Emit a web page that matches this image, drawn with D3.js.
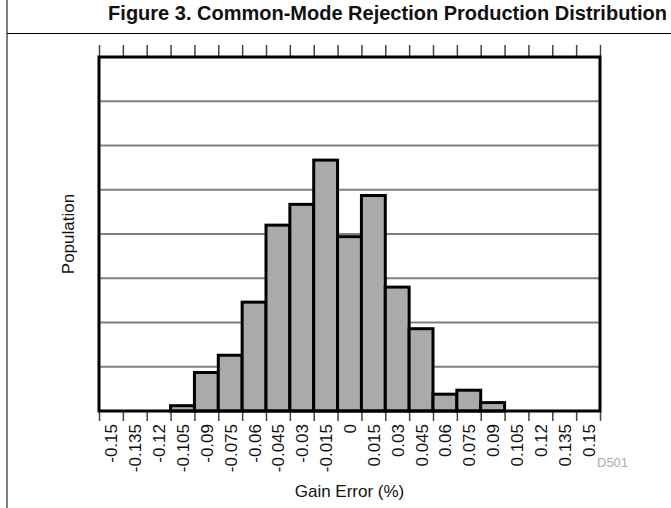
<!DOCTYPE html>
<html>
<head>
<meta charset="utf-8">
<script src="https://cdn.jsdelivr.net/npm/d3@7"></script>
<style>
  html, body { margin: 0; padding: 0; background: #fff; }
  svg { display: block; font-family: Arial, "Liberation Sans", sans-serif; }
</style>
</head>
<body>
<svg id="chart" width="671" height="508"></svg>
<script>
// ---- data ----
const binCenters = [-0.15, -0.135, -0.12, -0.105, -0.09, -0.075, -0.06, -0.045, -0.03, -0.015, 0,
                    0.015, 0.03, 0.045, 0.06, 0.075, 0.09, 0.105, 0.12, 0.135, 0.15];
const tickLabels = ["-0.15", "-0.135", "-0.12", "-0.105", "-0.09", "-0.075", "-0.06", "-0.045", "-0.03", "-0.015", "0",
                    "0.015", "0.03", "0.045", "0.06", "0.075", "0.09", "0.105", "0.12", "0.135", "0.15"];
const population = [0, 0, 0, 0.12, 0.87, 1.26, 2.46, 4.2, 4.67, 5.67, 3.94,
                    4.87, 2.8, 1.86, 0.38, 0.47, 0.19, 0, 0, 0, 0];
const gridValues = [1, 2, 3, 4, 5, 6, 7];
const binWidth = 0.015;
const title = "Figure 3. Common-Mode Rejection Production Distribution";
const xTitle = "Gain Error (%)";
const yTitle = "Population";
const figId = "D501";

(function () {
// ---- layout ----
const svg = d3.select("#chart");
const pL = 99, pR = 600, pT = 57, pB = 411;

const x = d3.scaleLinear()
  .domain([binCenters[0] - binWidth / 2, binCenters[binCenters.length - 1] + binWidth / 2])
  .range([pL, pR]);
const y = d3.scaleLinear().domain([0, 8]).range([pB, pT]);

// outer frame lines
svg.append("line").attr("x1", 7).attr("x2", 7).attr("y1", 0).attr("y2", 508)
  .attr("stroke", "#000").attr("stroke-width", 1);
svg.append("line").attr("x1", 7).attr("x2", 671).attr("y1", 33.5).attr("y2", 33.5)
  .attr("stroke", "#000").attr("stroke-width", 1);

// title
svg.append("text").attr("x", 667).attr("y", 20)
  .attr("text-anchor", "end").attr("font-weight", "bold").attr("font-size", 20)
  .attr("fill", "#111").text(title);

// gridlines
svg.append("g").selectAll("line").data(gridValues).join("line")
  .attr("x1", pL).attr("x2", pR)
  .attr("y1", d => y(d)).attr("y2", d => y(d))
  .attr("stroke", "#808080").attr("stroke-width", 2);

// bars
svg.append("g").selectAll("rect").data(population.map((v, i) => ({c: binCenters[i], v})).filter(d => d.v > 0))
  .join("rect")
  .attr("x", d => x(d.c - binWidth / 2))
  .attr("width", d => x(d.c + binWidth / 2) - x(d.c - binWidth / 2))
  .attr("y", d => y(d.v))
  .attr("height", d => y(0) - y(d.v))
  .attr("fill", "#aaaaaa").attr("stroke", "#000").attr("stroke-width", 3);

// bin-edge ticks (top and bottom)
const edges = d3.range(binCenters.length + 1).map(i => x.domain()[0] + i * binWidth);
const topAxis = d3.axisTop(x).tickValues(edges).tickSize(12).tickFormat("");
const gTop = svg.append("g").attr("transform", `translate(0,${pT})`).call(topAxis);
gTop.select(".domain").remove();
gTop.selectAll(".tick line").attr("stroke", "#444").attr("stroke-width", 1.5);

const botAxis = d3.axisBottom(x).tickValues(edges).tickSize(10).tickFormat("");
const gBot = svg.append("g").attr("transform", `translate(0,${pB})`).call(botAxis);
gBot.select(".domain").remove();
gBot.selectAll(".tick line").attr("stroke", "#444").attr("stroke-width", 1.5);

// labels at bin centres
const labelAxis = d3.axisBottom(x).tickValues(binCenters).tickSize(0)
  .tickFormat((d, i) => tickLabels[i]);
const gLab = svg.append("g").attr("transform", `translate(0,${pB})`).call(labelAxis);
gLab.select(".domain").remove();
gLab.selectAll(".tick text")
  .attr("font-size", 17).attr("fill", "#111")
  .attr("font-family", "Arial, 'Liberation Sans', sans-serif")
  .attr("transform", "rotate(-90)")
  .attr("text-anchor", "end")
  .attr("x", -13).attr("y", 0).attr("dy", "0.35em");

// plot frame
svg.append("rect").attr("x", pL).attr("y", pT)
  .attr("width", pR - pL).attr("height", pB - pT)
  .attr("fill", "none").attr("stroke", "#000").attr("stroke-width", 3);

// axis titles
svg.append("text").attr("x", (pL + pR) / 2).attr("y", 497)
  .attr("text-anchor", "middle").attr("font-size", 17).attr("fill", "#111").text(xTitle);
svg.append("text").attr("transform", `translate(74,${(pT + pB) / 2}) rotate(-90)`)
  .attr("text-anchor", "middle").attr("font-size", 17).attr("fill", "#111").text(yTitle);

// figure id
svg.append("text").attr("x", 597).attr("y", 467)
  .attr("font-size", 13).attr("fill", "#aaaaaa").text(figId);
})();
</script>
</body>
</html>
